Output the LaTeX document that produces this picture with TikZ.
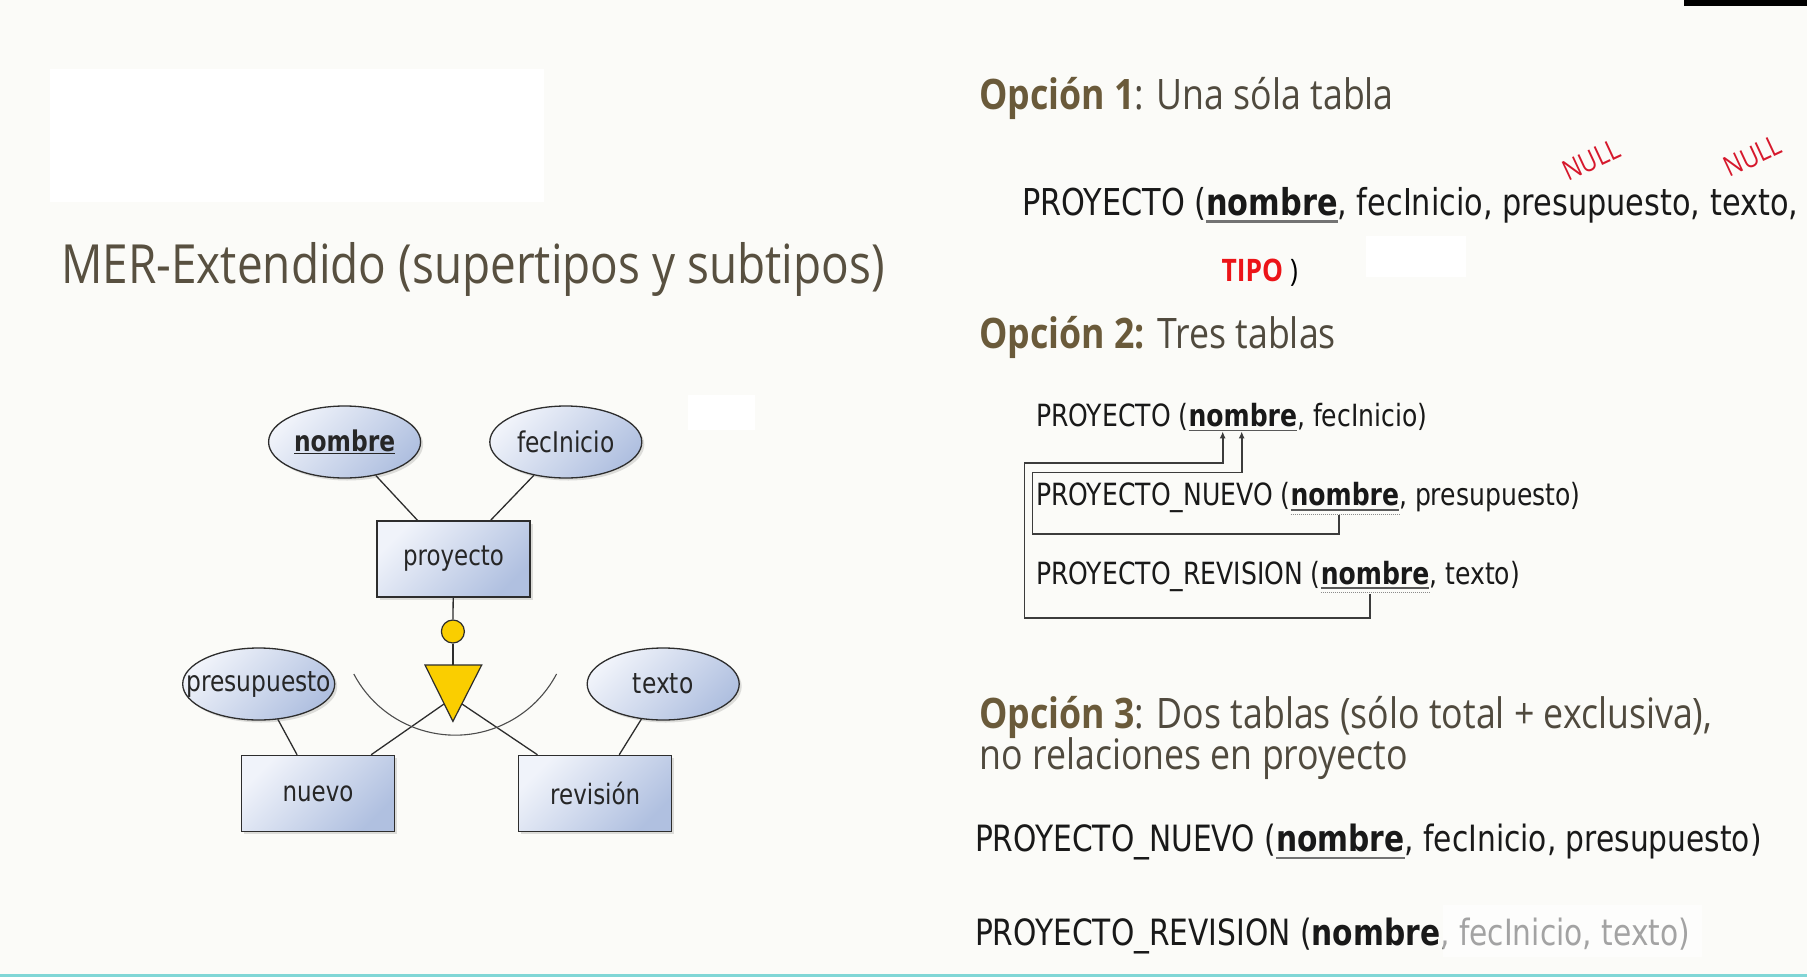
\documentclass[tikz,border=0pt]{standalone}
\usepackage{fontspec}
\usepackage{graphicx}
\setmainfont{Open Sans}[FakeStretch=0.85]
\newfontfamily\tabfont{DejaVu Sans}[FakeStretch=0.82]
\usetikzlibrary{calc,arrows.meta,shadows,shapes.geometric}

\definecolor{pagebg}{RGB}{251,251,248}
\definecolor{titletext}{RGB}{88,80,64}
\definecolor{headbold}{RGB}{106,90,58}
\definecolor{headtext}{RGB}{80,74,62}
\definecolor{erlight}{RGB}{240,243,250}
\definecolor{erdark}{RGB}{176,192,224}
\definecolor{erline}{RGB}{45,45,45}
\definecolor{isafill}{RGB}{250,206,0}
\definecolor{nullred}{RGB}{214,24,44}
\definecolor{tipored}{RGB}{236,20,24}
\definecolor{fkline}{RGB}{60,60,60}
\definecolor{cyanrule}{RGB}{128,214,214}

% attribute labels do not widen their ellipse
\newcommand{\attrlabel}[1]{\makebox[0pt][c]{#1}}

\begin{document}
\begin{tikzpicture}[x=1pt,y=1pt,
  erbox/.style={rectangle, draw=erline, line width=1.3pt,
    minimum width=153pt, minimum height=76pt, inner sep=0pt,
    top color=erlight, bottom color=erdark, shading angle=45,
    drop shadow={shadow xshift=2.5pt, shadow yshift=-2.5pt, opacity=0.25},
    font=\tabfont\fontsize{28}{32}\selectfont, text=black!85},
  erattr/.style={ellipse, draw=erline, line width=1.3pt,
    minimum width=152pt, minimum height=72pt, inner sep=0pt,
    top color=erlight, bottom color=erdark, shading angle=45,
    drop shadow={shadow xshift=2.5pt, shadow yshift=-2.5pt, opacity=0.25},
    font=\tabfont\fontsize{28.5}{32}\selectfont, text=black!85},
  erconn/.style={draw=erline, line width=1.3pt},
  headtxt/.style={anchor=base west, inner sep=0pt, outer sep=0pt,
    font=\fontsize{42}{48}\selectfont, text=headtext},
  tabtxt/.style={anchor=base west, inner sep=0pt, outer sep=0pt, text=black!90},
  keyline/.style={draw=black!65, line width=1.8pt},
  dotline/.style={draw=black!45, line width=1.2pt, dash pattern=on 1pt off 1pt},
  fkarrow/.style={draw=fkline, line width=1.9pt, -{Latex[length=7pt,width=6pt]}},
  nullmark/.style={text=nullred, inner sep=0pt, rotate=25,
    font=\fontsize{28}{30}\selectfont}
]
% page
\fill[pagebg] (0,0) rectangle (1807,-977);
\useasboundingbox (0,0) rectangle (1807,-977);

% blank panels
\fill[white] (49.6,-69) rectangle (544,-201.7);
\fill[white] (688,-395) rectangle (755,-430);
\fill[white] (1365.6,-236) rectangle (1465.9,-276.6);

% edge marks
\fill[black] (1684,0) rectangle (1807,-6);
\fill[cyanrule] (0,-974) rectangle (1807,-977);

% title
\node[anchor=base west, inner sep=0pt, text=titletext,
  font=\fontsize{54}{60}\selectfont] (title) at (61,-283.5)
  {MER-Extendido (supertipos y subtipos)};

% ---------------- ER diagram ----------------
\node[erbox] (proy) at (453.5,-559) {proyecto};
\node[erattr] (nombre) at (344.6,-442) {\attrlabel{\underline{\textbf{nombre}}}};
\node[erattr] (fec) at (565.8,-442) {\attrlabel{fecInicio}};
\node[erattr] (presu) at (258.7,-684) {\attrlabel{presupuesto}};
\node[erattr] (texto) at (663.2,-684) {\attrlabel{texto}};
\node[erbox] (nuevo) at (318,-793.4) {nuevo};
\node[erbox] (revi) at (595.2,-793.4) {revisión};
\node[circle, draw=erline, line width=1.2pt, fill=isafill,
  minimum size=23pt, inner sep=0pt] (disc) at (452.9,-631.5) {};

\coordinate (isaTL) at (425,-665);
\coordinate (isaTR) at (481.7,-665);
\coordinate (isaB) at (452.9,-721.4);
\coordinate (isaTop) at (452.9,-665);
\coordinate (isaL) at (444,-704);
\coordinate (isaR) at (462,-704);

\draw[erconn] (nombre) -- (proy);
\draw[erconn] (fec) -- (proy);
\draw[erconn] (presu) -- (nuevo);
\draw[erconn] (texto) -- (revi);
\draw[erconn] (proy) -- (disc);
\draw[erconn] (disc) -- (isaTop);
\draw[erconn] ([xshift=-24pt]nuevo.north east) -- (isaL);
\draw[erconn] ([xshift=19.4pt]revi.north west) -- (isaR);
\filldraw[fill=isafill, draw=erline, line width=1.2pt]
  (isaTL) -- (isaTR) -- (isaB) -- cycle;
\draw[erconn, line width=1.1pt, draw=black!70]
  (353.8,-674) arc[start angle=207.8, end angle=332.2, radius=114.6];

% ---------------- Option 1 ----------------
\node[headtxt] (op1) at (979.5,-109.5)
  {\textbf{\color{headbold}Opción 1}: Una sóla tabla};

\begin{scope}[every node/.append style={font=\tabfont\fontsize{37}{42}\selectfont}]
\node[tabtxt] (t1a) at (1022,-215.5) {PROYECTO (};
\node[tabtxt] (t1k) at (t1a.base east) {\textbf{nombre}};
\node[tabtxt] (t1b) at (t1k.base east) {, fecInicio, presupuesto, texto,};
\end{scope}
\draw[keyline, draw=black!55, line width=2.2pt]
  ([yshift=-6pt]t1k.base west) -- ([yshift=-6pt]t1k.base east);

\node[nullmark] (null1) at (1591.5,-160) {NULL};
\node[nullmark] (null2) at (1752.8,-156) {NULL};

\node[anchor=base west, inner sep=0pt, font=\fontsize{31}{36}\selectfont]
  (tipo) at (1221.5,-281) {\textcolor{tipored}{\textbf{TIPO}} )};

% ---------------- Option 2 ----------------
\node[headtxt] (op2) at (979.5,-348)
  {\textbf{\color{headbold}Opción 2:} Tres tablas};

\begin{scope}[every node/.append style={font=\tabfont\fontsize{30.6}{34}\selectfont}]
\node[tabtxt] (t2a) at (1036,-426.4) {PROYECTO (};
\node[tabtxt] (t2ak) at (t2a.base east) {\textbf{nombre}};
\node[tabtxt] (t2ab) at (t2ak.base east) {, fecInicio)};
\node[tabtxt] (t2b) at (1036,-505.9) {PROYECTO\_NUEVO (};
\node[tabtxt] (t2bk) at (t2b.base east) {\textbf{nombre}};
\node[tabtxt] (t2bb) at (t2bk.base east) {, presupuesto)};
\node[tabtxt] (t2c) at (1036,-584.3) {PROYECTO\_REVISION (};
\node[tabtxt] (t2ck) at (t2c.base east) {\textbf{nombre}};
\node[tabtxt] (t2cb) at (t2ck.base east) {, texto)};
\end{scope}

% key underlines
\draw[keyline] ([yshift=-4pt]t2ak.base west) -- ([yshift=-4pt]t2ak.base east);
\draw[keyline] ([yshift=-4pt]t2bk.base west) -- ([yshift=-4pt]t2bk.base east);
\draw[dotline] ([yshift=-8.5pt]t2bk.base west) -- ([yshift=-8.5pt]t2bk.base east);
\draw[keyline] ([yshift=-4pt]t2ck.base west) -- ([yshift=-4pt]t2ck.base east);
\draw[dotline] ([yshift=-8.5pt]t2ck.base west) -- ([yshift=-8.5pt]t2ck.base east);

% foreign keys
\coordinate (pkA) at ($(t2ak.base west)!0.315!(t2ak.base east)+(0,-5)$);
\coordinate (pkB) at ($(t2ak.base west)!0.49!(t2ak.base east)+(0,-5)$);
\coordinate (fkN) at ($(t2bk.base west)!0.45!(t2bk.base east)+(0,-9.5)$);
\coordinate (fkR) at ($(t2ck.base west)!0.45!(t2ck.base east)+(0,-9.5)$);
\coordinate (nbot) at (0,-533.6);
\coordinate (nleft) at (1032.5,-472.5);
\coordinate (rbot) at (0,-617.7);
\coordinate (rleft) at (1024.5,-463.3);
\draw[fkarrow] (fkN) -- (fkN |- nbot) -| (nleft) -- (pkB |- nleft) -- (pkB);
\draw[fkarrow] (fkR) -- (fkR |- rbot) -| (rleft) -- (pkA |- rleft) -- (pkA);

% ---------------- Option 3 ----------------
\node[headtxt] (op3a) at (979.5,-728.3)
  {\textbf{\color{headbold}Opción 3}: Dos tablas (sólo total + exclusiva),};
\node[headtxt] (op3b) at (979.5,-769.8) {no relaciones en proyecto};

\begin{scope}[every node/.append style={font=\tabfont\fontsize{36.2}{40}\selectfont}]
\node[tabtxt] (t3a) at (975,-851.6) {PROYECTO\_NUEVO (};
\node[tabtxt] (t3ak) at (t3a.base east) {\textbf{nombre}};
\node[tabtxt] (t3ab) at (t3ak.base east) {, fecInicio, presupuesto)};
\node[tabtxt] (t3b) at (975,-945) {PROYECTO\_REVISION (};
\node[tabtxt] (t3bk) at (t3b.base east) {\textbf{nombre}};
\node[tabtxt] (t3bb) at (t3bk.base east) {, fecInicio, texto)};
\end{scope}
\draw[keyline, draw=black!55, line width=2.2pt]
  ([yshift=-6pt]t3ak.base west) -- ([yshift=-6pt]t3ak.base east);

% translucent panel over the end of the last line
\fill[white, opacity=0.6]
  ($(t3bb.base west)+(3,-12)$) rectangle ($(t3bb.base east)+(12,40)$);
\end{tikzpicture}
\end{document}
